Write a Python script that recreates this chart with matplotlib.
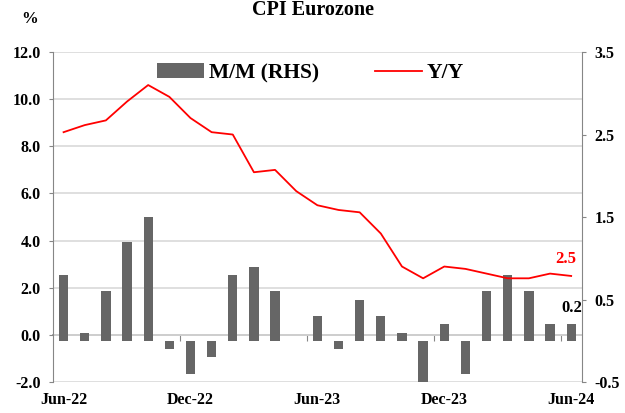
import matplotlib
matplotlib.use("Agg")
import matplotlib.pyplot as plt
import numpy as np

# CPI Eurozone, Jun-22 .. Jun-24
months = ["Jun-22", "Jul-22", "Aug-22", "Sep-22", "Oct-22", "Nov-22", "Dec-22",
          "Jan-23", "Feb-23", "Mar-23", "Apr-23", "May-23", "Jun-23", "Jul-23",
          "Aug-23", "Sep-23", "Oct-23", "Nov-23", "Dec-23", "Jan-24", "Feb-24",
          "Mar-24", "Apr-24", "May-24", "Jun-24"]
mm = [0.8, 0.1, 0.6, 1.2, 1.5, -0.1, -0.4, -0.2, 0.8, 0.9, 0.6, 0.0, 0.3,
      -0.1, 0.5, 0.3, 0.1, -0.6, 0.2, -0.4, 0.6, 0.8, 0.6, 0.2, 0.2]
yy = [8.6, 8.9, 9.1, 9.9, 10.6, 10.1, 9.2, 8.6, 8.5, 6.9, 7.0, 6.1, 5.5,
      5.3, 5.2, 4.3, 2.9, 2.4, 2.9, 2.8, 2.6, 2.4, 2.4, 2.6, 2.5]
label_months = ["Jun-22", "Dec-22", "Jun-23", "Dec-23", "Jun-24"]
left_ticks = [-2.0, 0.0, 2.0, 4.0, 6.0, 8.0, 10.0, 12.0]
right_ticks = [-0.5, 0.5, 1.5, 2.5, 3.5]

plt.rcParams["font.family"] = ["Liberation Serif", "DejaVu Serif"]
plt.rcParams["font.weight"] = "bold"

AXIS_GREY = "#868686"
GRID_GREY = "#d9d9d9"
BAR_GREY = "#666666"
TICK_FS = 11.5

fig = plt.figure(figsize=(6.25, 4.13), dpi=100)
ax = fig.add_axes([0.0848, 0.075, 0.846, 0.799])
ax2 = ax.twinx()

x = np.arange(len(months))

# left axis: grid + Y/Y scale
ax.set_ylim(-2, 12)
ax.set_xlim(-0.5, len(months) - 0.5)
ax.set_yticks(left_ticks)
ax.set_yticklabels([f"{v:.1f}" for v in left_ticks])
ax.grid(axis="y", color=GRID_GREY, linewidth=1.2)
ax.set_axisbelow(True)
ax.set_xticks([months.index(m) for m in label_months])
ax.set_xticklabels(label_months)
ax.tick_params(axis="x", length=0, pad=7, labelsize=TICK_FS)
ax.tick_params(axis="y", direction="out", length=3, color=AXIS_GREY,
               labelsize=TICK_FS, pad=6)
for s in ["top", "bottom", "right"]:
    ax.spines[s].set_visible(False)
ax.spines["left"].set_color(AXIS_GREY)

# category axis line at zero with boundary ticks
zero_frac = (0 - (-2)) / (12 - (-2))
sec = ax.secondary_xaxis(zero_frac)
sec.set_xticks([5.5, 11.5, 17.5, 23.5])
sec.set_xticklabels([])
sec.tick_params(axis="x", direction="out", length=4, color=AXIS_GREY)
sec.spines["bottom"].set_color(AXIS_GREY)
sec.spines["bottom"].set_linewidth(1.2)

# right axis: M/M bars
ax2.set_ylim(-0.5, 3.5)
ax2.set_yticks(right_ticks)
ax2.set_yticklabels([f"{v:.1f}" for v in right_ticks])
ax2.tick_params(axis="y", direction="out", length=3, color=AXIS_GREY,
                labelsize=TICK_FS, pad=6)
for s in ["top", "bottom", "left"]:
    ax2.spines[s].set_visible(False)
ax2.spines["right"].set_color(AXIS_GREY)

bars = ax2.bar(x, mm, width=0.44, color=BAR_GREY, label="M/M (RHS)", zorder=2)
line, = ax2.plot(x, yy, color="red", linewidth=1.3, transform=ax.transData,
                 label="Y/Y", zorder=3)

ax.text(x[-1] - 0.25, yy[-1] + 0.4, f"{yy[-1]:.1f}", color="red",
        fontsize=12, fontweight="bold", ha="center", va="bottom")
ax2.text(x[-1] + 0.5, mm[-1] + 0.1, f"{mm[-1]:.1f}", color="black",
         fontsize=12, fontweight="bold", ha="right", va="bottom")

leg = ax.legend([bars, line], ["M/M (RHS)", "Y/Y"], loc="upper left",
                bbox_to_anchor=(0.16, 1.025), ncol=2, frameon=False,
                prop={"size": 15.5, "weight": "bold"}, handlelength=2.2,
                columnspacing=2.6, handletextpad=0.2)

fig.text(0.5, 0.975, "CPI Eurozone", ha="center", va="center",
         fontsize=14.5, fontweight="bold")
fig.text(0.048, 0.955, "%", ha="center", va="center",
         fontsize=12, fontweight="bold")

fig.savefig("out.png", dpi=100)
